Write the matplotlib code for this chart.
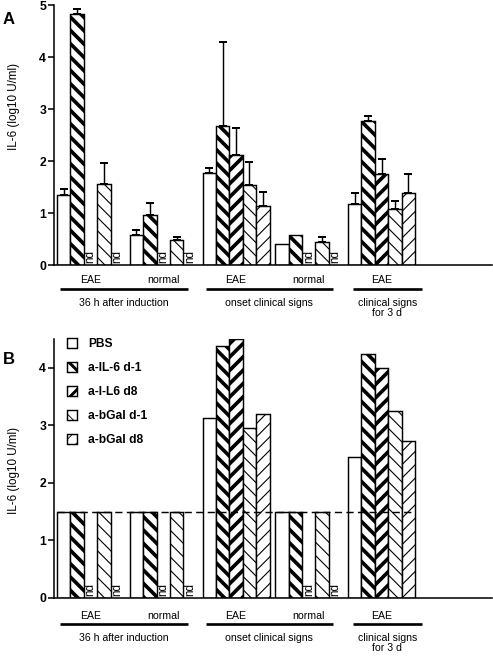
import numpy as np
import matplotlib
matplotlib.use("Agg")
import matplotlib.pyplot as plt
from matplotlib.transforms import blended_transform_factory

plt.rcParams['font.family'] = ['Liberation Sans', 'DejaVu Sans']

# ---------------- data ----------------
groups = ["EAE", "normal", "EAE", "normal", "EAE"]
supergroups = ["36 h after induction", "onset clinical signs", "clinical signs\nfor 3 d"]
series = ["PBS", "a-IL-6 d-1", "a-I-L6 d8", "a-bGal d-1", "a-bGal d8"]

nd = np.nan
# Panel A: means and upper error (nan = not done)
A_pbs = [1.35, 0.58, 1.77, 0.40, 1.17]
A_il6_d1 = [4.82, 0.96, 2.67, 0.58, 2.76]
A_il6_d8 = [nd, nd, 2.12, nd, 1.75]
A_bgal_d1 = [1.55, 0.48, 1.53, 0.45, 1.07]
A_bgal_d8 = [nd, nd, 1.14, nd, 1.38]

A_err_pbs = [0.11, 0.09, 0.10, 0.0, 0.21]
A_err_il6_d1 = [0.10, 0.24, 1.61, 0.0, 0.11]
A_err_il6_d8 = [nd, nd, 0.51, nd, 0.29]
A_err_bgal_d1 = [0.41, 0.05, 0.45, 0.08, 0.16]
A_err_bgal_d8 = [nd, nd, 0.26, nd, 0.37]

# Panel B: values
B_pbs = [1.5, 1.5, 3.13, 1.5, 2.44]
B_il6_d1 = [1.5, 1.5, 4.38, 1.5, 4.23]
B_il6_d8 = [nd, nd, 4.50, nd, 4.00]
B_bgal_d1 = [1.5, 1.5, 2.96, 1.5, 3.25]
B_bgal_d8 = [nd, nd, 3.19, nd, 2.72]

detection_limit = 1.5

A_vals = [A_pbs, A_il6_d1, A_il6_d8, A_bgal_d1, A_bgal_d8]
A_errs = [A_err_pbs, A_err_il6_d1, A_err_il6_d8, A_err_bgal_d1, A_err_bgal_d8]
B_vals = [B_pbs, B_il6_d1, B_il6_d8, B_bgal_d1, B_bgal_d8]

# ---------------- style ----------------
hatch_dirs = ['', '\\\\', '//', '\\\\', '//']
hatch_lw = [0, 3.3, 3.3, 1.0, 1.0]
PITCH = 5.43
DPI = 80

fig = plt.figure(figsize=(493 / DPI, 658 / DPI), dpi=DPI)
W, H = 493, 658
axA = fig.add_axes([54 / W, 1 - 265 / H, 438 / W, 260 / H])
axB = fig.add_axes([54 / W, 1 - 598 / H, 438 / W, 259.2 / H])


def draw_bars(ax, vals, errs=None):
    conts = []
    for j, (v, name) in enumerate(zip(vals, series)):
        v = np.array(v, dtype=float)
        x = np.arange(len(groups)) * PITCH + j + 0.5
        mask = ~np.isnan(v)
        c = ax.bar(x[mask], v[mask], width=1.0, facecolor='white', edgecolor='black',
                   linewidth=1.3, hatch=hatch_dirs[j] if hatch_dirs[j] else None,
                   label=name, zorder=2)
        for p in c.patches:
            if hatch_dirs[j] and hasattr(p, 'set_hatch_linewidth'):
                p.set_hatch_linewidth(hatch_lw[j])
        conts.append(c)
        if errs is not None:
            e = np.array(errs[j], dtype=float)[mask]
            has = e > 0
            if has.any():
                ax.errorbar(x[mask][has], v[mask][has],
                            yerr=[np.zeros(has.sum()), e[has]], fmt='none',
                            ecolor='black', elinewidth=1.3, capsize=3.5, capthick=1.8,
                            zorder=3)
        for xi in x[~mask]:
            ax.annotate('nd', xy=(xi, 0.0), xytext=(0, 2), textcoords='offset points',
                        rotation=90, ha='center', va='bottom', fontsize=10.5)
    return conts


def style_axis(ax, ymax, yticks, ylabel_y):
    ax.set_xlim(-0.22, 32.46)
    ax.set_ylim(0, ymax)
    ax.spines['top'].set_visible(False)
    ax.spines['right'].set_visible(False)
    ax.spines['left'].set_linewidth(1.4)
    ax.spines['bottom'].set_linewidth(1.4)
    ax.set_xticks([])
    ax.set_yticks(yticks)
    ax.set_yticklabels([str(t) for t in yticks], fontweight='bold', fontsize=11)
    ax.tick_params(axis='y', direction='out', length=5, width=1.4, pad=2)
    ax.set_ylabel('IL-6 (log10 U/ml)', fontsize=10.5)
    ax.yaxis.set_label_coords(-0.077, ylabel_y)
    ax.set_facecolor('none')


def group_labels(ax, axh_px, offs):
    tr = blended_transform_factory(ax.transData, ax.transAxes)
    centers = np.arange(len(groups)) * PITCH + 2.5
    for c, g in zip(centers, groups):
        ax.text(c, -offs[0] / axh_px, g, ha='center', va='center', fontsize=9.5,
                transform=tr, clip_on=False)
    spans = [(0.22, 9.78), (11.1, 20.6), (22.1, 27.2)]
    for (a, b), lab in zip(spans, supergroups):
        ax.plot([a, b], [-offs[1] / axh_px] * 2, color='black', lw=2.4,
                transform=tr, clip_on=False, solid_capstyle='butt')
        ax.text((a + b) / 2, -offs[2] / axh_px, lab, ha='center', va='top',
                fontsize=9.5, transform=tr, clip_on=False, linespacing=0.95)


# Panel A
draw_bars(axA, A_vals, A_errs)
style_axis(axA, 5, [0, 1, 2, 3, 4, 5], 0.61)
group_labels(axA, 260, (15, 24, 33))

# Panel B
contsB = draw_bars(axB, B_vals)
style_axis(axB, 4.5, [0, 1, 2, 3, 4], 0.49)
group_labels(axB, 259.2, (18, 26, 35))
xend = (len(groups) - 1) * PITCH + 5
axB.plot([0, xend], [detection_limit, detection_limit], color='black', lw=1.3,
         linestyle=(0, (5, 3)), zorder=4)

leg = axB.legend(handles=contsB, labels=series, loc='upper left',
                 bbox_to_anchor=(67 / W, 1 - 338 / H), bbox_transform=fig.transFigure,
                 frameon=False, borderpad=0, borderaxespad=0, handlelength=0.85,
                 handleheight=0.85, handletextpad=0.9, labelspacing=1.0,
                 prop={'weight': 'bold', 'size': 10.8})
for h, lw in zip(leg.legend_handles, hatch_lw):
    if hasattr(h, 'set_hatch_linewidth') and lw:
        h.set_hatch_linewidth(lw * 0.8)

fig.text(9 / W, 1 - 19 / H, 'A', fontsize=15, fontweight='bold', ha='center', va='center')
fig.text(9 / W, 1 - 360 / H, 'B', fontsize=15, fontweight='bold', ha='center', va='center')

fig.savefig('out.png', dpi=DPI)
